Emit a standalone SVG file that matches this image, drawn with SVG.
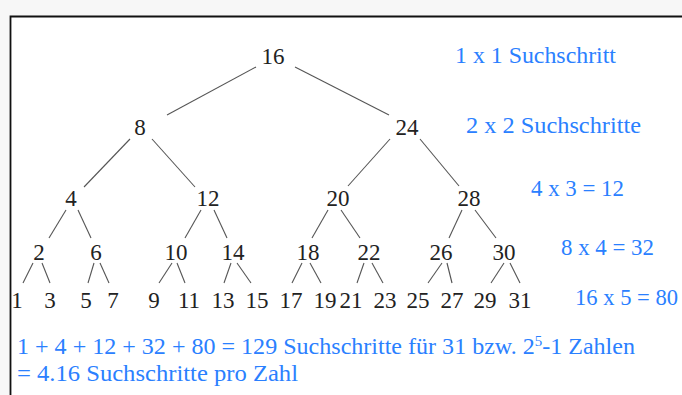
<svg xmlns="http://www.w3.org/2000/svg" width="682" height="395" viewBox="0 0 682 395">
  <style>
    text { font-family: 'Liberation Serif', 'Times New Roman', serif; }
    .num { font-size: 23px; fill: #222; text-anchor: middle; }
    .note { font-size: 22.5px; fill: #2a80ff; }
    .sup { font-size: 14px; }
    .edge { stroke: #555; stroke-width: 1.1; fill: none; }
  </style>

  <!-- page background and frame -->
  <rect x="0" y="0" width="682" height="395" fill="#f7f7f7"/>
  <rect x="10" y="16" width="672" height="379" fill="#ffffff"/>
  <path d="M10.5 395 V16.5 H682" stroke="#111" stroke-width="1.8" fill="none"/>

  <!-- tree edges -->
  <g id="connectors">
    <line class="edge" x1="256" y1="67" x2="167" y2="115"/>
    <line class="edge" x1="295" y1="67" x2="389" y2="115"/>
    <line class="edge" x1="130" y1="139" x2="84" y2="187"/>
    <line class="edge" x1="152" y1="139" x2="195" y2="187"/>
    <line class="edge" x1="390" y1="139" x2="348" y2="186"/>
    <line class="edge" x1="420" y1="139" x2="459" y2="186"/>
    <line class="edge" x1="66" y1="210" x2="49" y2="238"/>
    <line class="edge" x1="78" y1="210" x2="91" y2="238"/>
    <line class="edge" x1="201" y1="210" x2="185" y2="238"/>
    <line class="edge" x1="214" y1="210" x2="227" y2="238"/>
    <line class="edge" x1="328" y1="210" x2="312" y2="238"/>
    <line class="edge" x1="341" y1="210" x2="360" y2="238"/>
    <line class="edge" x1="462" y1="210" x2="449" y2="238"/>
    <line class="edge" x1="475" y1="210" x2="496" y2="238"/>
    <line class="edge" x1="33" y1="263" x2="23" y2="283"/>
    <line class="edge" x1="42" y1="263" x2="50" y2="283"/>
    <line class="edge" x1="94" y1="263" x2="88" y2="283"/>
    <line class="edge" x1="100" y1="263" x2="109" y2="283"/>
    <line class="edge" x1="172" y1="263" x2="159" y2="283"/>
    <line class="edge" x1="177" y1="263" x2="185" y2="283"/>
    <line class="edge" x1="231" y1="263" x2="224" y2="283"/>
    <line class="edge" x1="237" y1="263" x2="251" y2="283"/>
    <line class="edge" x1="302" y1="263" x2="292" y2="283"/>
    <line class="edge" x1="310" y1="263" x2="321" y2="283"/>
    <line class="edge" x1="364" y1="263" x2="357" y2="283"/>
    <line class="edge" x1="372" y1="263" x2="383" y2="283"/>
    <line class="edge" x1="442" y1="263" x2="428" y2="283"/>
    <line class="edge" x1="447" y1="263" x2="452" y2="283"/>
    <line class="edge" x1="504" y1="263" x2="491" y2="283"/>
    <line class="edge" x1="510" y1="263" x2="520" y2="283"/>
  </g>

  <!-- level 1 -->
  <g id="n16"><text class="num" x="273" y="64">16</text></g>
  <!-- level 2 -->
  <g id="n8"><text class="num" x="140" y="135">8</text></g>
  <g id="n24"><text class="num" x="407" y="135">24</text></g>
  <!-- level 3 -->
  <g id="n4"><text class="num" x="71" y="206">4</text></g>
  <g id="n12"><text class="num" x="208" y="206">12</text></g>
  <g id="n20"><text class="num" x="338" y="206">20</text></g>
  <g id="n28"><text class="num" x="469" y="206">28</text></g>
  <!-- level 4 -->
  <g id="n2"><text class="num" x="39" y="260">2</text></g>
  <g id="n6"><text class="num" x="96" y="260">6</text></g>
  <g id="n10"><text class="num" x="176" y="260">10</text></g>
  <g id="n14"><text class="num" x="233" y="260">14</text></g>
  <g id="n18"><text class="num" x="308" y="260">18</text></g>
  <g id="n22"><text class="num" x="369" y="260">22</text></g>
  <g id="n26"><text class="num" x="441" y="260">26</text></g>
  <g id="n30"><text class="num" x="504" y="260">30</text></g>
  <!-- leaves -->
  <g id="n1"><text class="num" x="17" y="308">1</text></g>
  <g id="n3"><text class="num" x="50" y="308">3</text></g>
  <g id="n5"><text class="num" x="86" y="308">5</text></g>
  <g id="n7"><text class="num" x="113" y="308">7</text></g>
  <g id="n9"><text class="num" x="154" y="308">9</text></g>
  <g id="n11"><text class="num" x="189" y="308">11</text></g>
  <g id="n13"><text class="num" x="223" y="308">13</text></g>
  <g id="n15"><text class="num" x="257" y="308">15</text></g>
  <g id="n17"><text class="num" x="291" y="308">17</text></g>
  <g id="n19"><text class="num" x="325" y="308">19</text></g>
  <g id="n21"><text class="num" x="351" y="308">21</text></g>
  <g id="n23"><text class="num" x="385" y="308">23</text></g>
  <g id="n25"><text class="num" x="418" y="308">25</text></g>
  <g id="n27"><text class="num" x="452" y="308">27</text></g>
  <g id="n29"><text class="num" x="485" y="308">29</text></g>
  <g id="n31"><text class="num" x="520" y="308">31</text></g>

  <!-- step counts per level -->
  <g id="counts">
    <text class="note" x="455" y="63" textLength="161" lengthAdjust="spacingAndGlyphs">1 x 1 Suchschritt</text>
    <text class="note" x="466" y="133" textLength="175" lengthAdjust="spacingAndGlyphs">2 x 2 Suchschritte</text>
    <text class="note" x="531" y="196" textLength="93" lengthAdjust="spacingAndGlyphs">4 x 3 = 12</text>
    <text class="note" x="561" y="255" textLength="93" lengthAdjust="spacingAndGlyphs">8 x 4 = 32</text>
    <text class="note" x="575" y="305" textLength="103" lengthAdjust="spacingAndGlyphs">16 x 5 = 80</text>
  </g>

  <!-- total -->
  <g id="summary">
    <text class="note" x="17" y="354" textLength="618" lengthAdjust="spacingAndGlyphs">1 + 4 + 12 + 32 + 80 = 129 Suchschritte für 31 bzw. 2<tspan class="sup" dy="-8">5</tspan><tspan dy="8">-1 Zahlen</tspan></text>
    <text class="note" x="17" y="381" textLength="281" lengthAdjust="spacingAndGlyphs">= 4.16 Suchschritte pro Zahl</text>
  </g>
</svg>
